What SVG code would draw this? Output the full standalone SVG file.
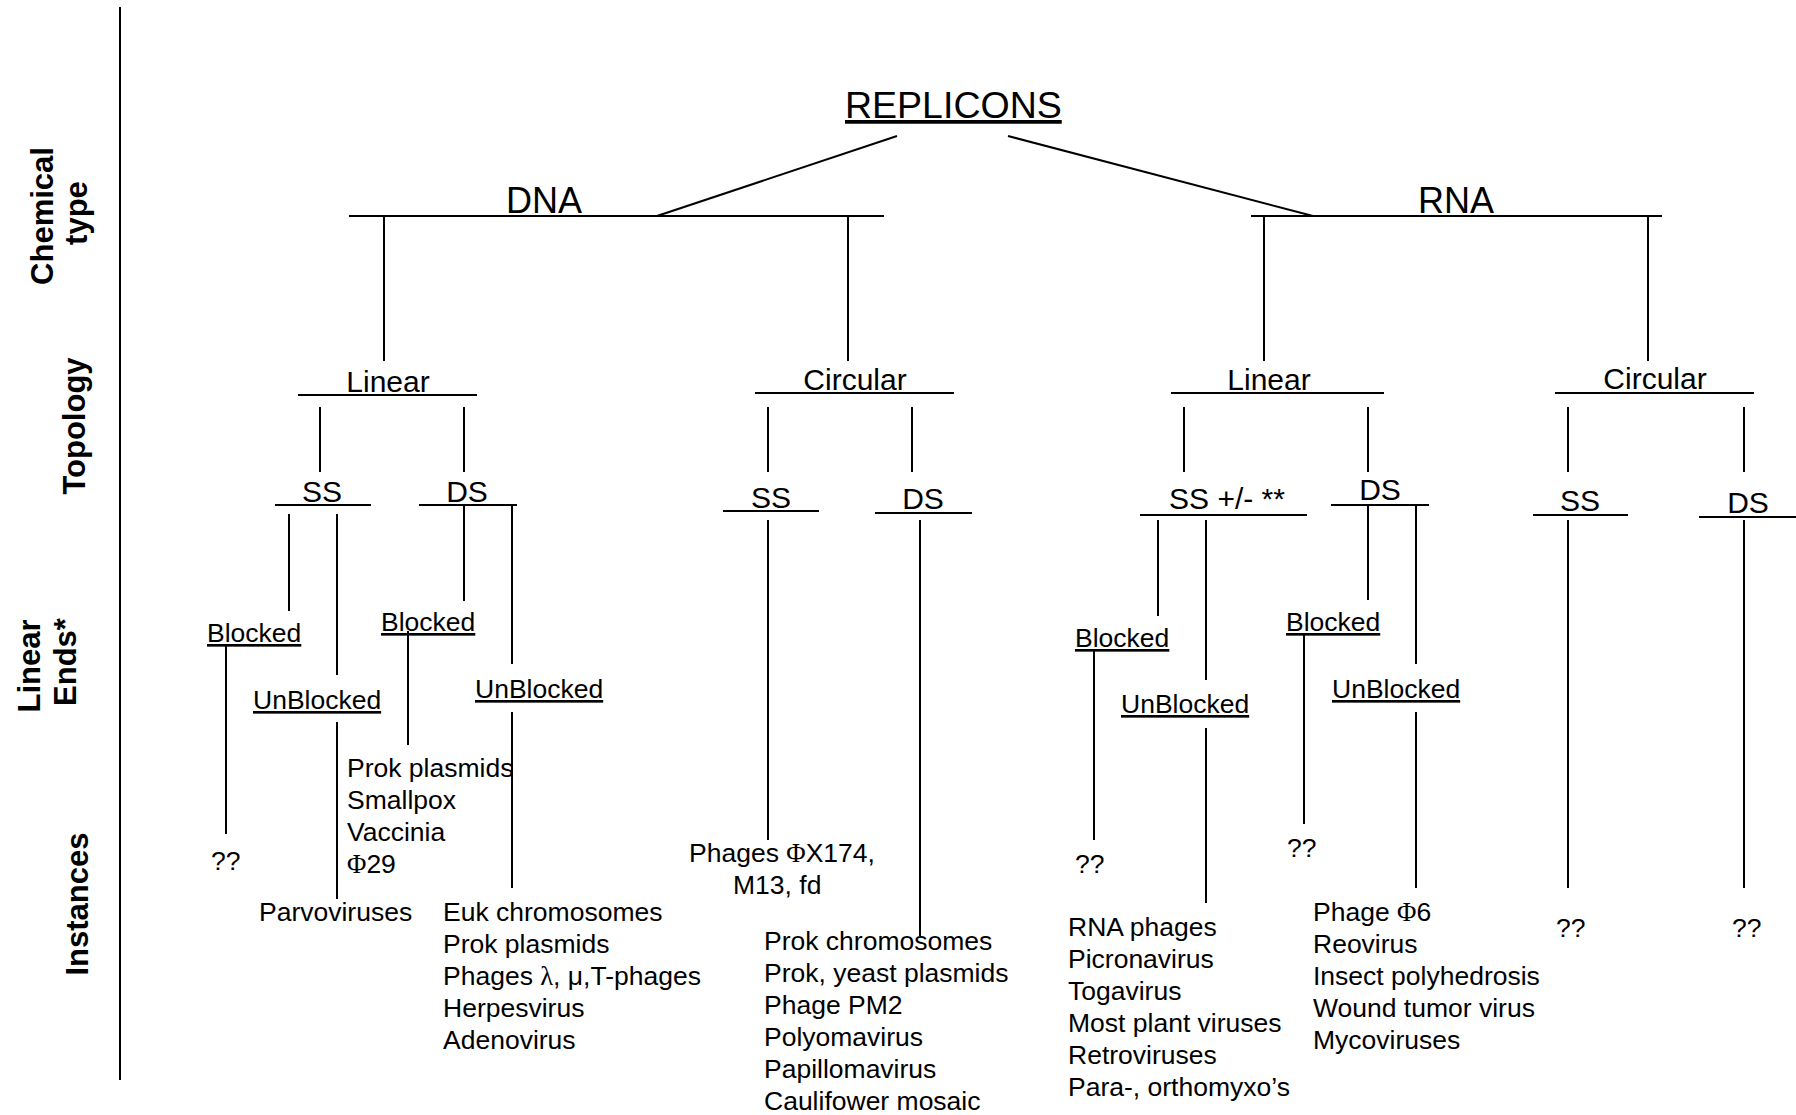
<svg xmlns="http://www.w3.org/2000/svg" width="1796" height="1115" viewBox="0 0 1796 1115">
<style>
.ln{stroke:#000;stroke-width:2;fill:none}
text{font-family:"Liberation Sans",Arial,sans-serif;fill:#000}
.ax{font-weight:bold;font-size:31px;text-anchor:middle}
.t38{font-size:37.5px}
.t36{font-size:36px}
.t30{font-size:30px;text-anchor:middle}
.t26{font-size:26.5px}
.u{text-decoration:underline}
.sym{font-family:"Liberation Serif","DejaVu Serif",serif}
</style>
<rect width="1796" height="1115" fill="#fff"/>

<g id="axis">
<line class="ln" x1="120" y1="7" x2="120" y2="1080"/>
<text class="ax" transform="rotate(-90 53 216)" x="53" y="216">Chemical</text>
<text class="ax" transform="rotate(-90 87 213)" x="87" y="213">type</text>
<text class="ax" transform="rotate(-90 85 426)" x="85" y="426">Topology</text>
<text class="ax" transform="rotate(-90 40 666)" x="40" y="666">Linear</text>
<text class="ax" transform="rotate(-90 76 662)" x="76" y="662">Ends*</text>
<text class="ax" transform="rotate(-90 88 904)" x="88" y="904">Instances</text>
</g>

<g id="replicons"><text class="t38 u" x="845" y="118">REPLICONS</text></g>

<g id="dna">
<text class="t36" x="506" y="213">DNA</text>
<line class="ln" x1="349" y1="216" x2="884" y2="216"/>
</g>
<g id="rna">
<text class="t36" x="1418" y="213">RNA</text>
<line class="ln" x1="1251" y1="216" x2="1662" y2="216"/>
</g>

<g id="dna-linear">
<text class="t30" x="388" y="392">Linear</text>
<line class="ln" x1="298" y1="395" x2="477" y2="395"/>
</g>
<g id="dna-circular">
<text class="t30" x="855" y="390">Circular</text>
<line class="ln" x1="755" y1="393" x2="954" y2="393"/>
</g>
<g id="rna-linear">
<text class="t30" x="1269" y="390">Linear</text>
<line class="ln" x1="1171" y1="393" x2="1384" y2="393"/>
</g>
<g id="rna-circular">
<text class="t30" x="1655" y="389">Circular</text>
<line class="ln" x1="1555" y1="393" x2="1754" y2="393"/>
</g>

<g id="dna-lin-ss">
<text class="t30" x="322" y="502">SS</text>
<line class="ln" x1="275" y1="505" x2="371" y2="505"/>
</g>
<g id="dna-lin-ds">
<text class="t30" x="467" y="502">DS</text>
<line class="ln" x1="419" y1="505" x2="517" y2="505"/>
</g>
<g id="dna-circ-ss">
<text class="t30" x="771" y="508">SS</text>
<line class="ln" x1="723" y1="511" x2="819" y2="511"/>
</g>
<g id="dna-circ-ds">
<text class="t30" x="923" y="509">DS</text>
<line class="ln" x1="875" y1="513" x2="972" y2="513"/>
</g>
<g id="rna-lin-ss">
<text class="t30" x="1227" y="509">SS +/- **</text>
<line class="ln" x1="1140" y1="515" x2="1307" y2="515"/>
</g>
<g id="rna-lin-ds">
<text class="t30" x="1380" y="500">DS</text>
<line class="ln" x1="1331" y1="505" x2="1429" y2="505"/>
</g>
<g id="rna-circ-ss">
<text class="t30" x="1580" y="511">SS</text>
<line class="ln" x1="1533" y1="515" x2="1628" y2="515"/>
</g>
<g id="rna-circ-ds">
<text class="t30" x="1748" y="513">DS</text>
<line class="ln" x1="1699" y1="517" x2="1796" y2="517"/>
</g>

<g id="dna-ss-blocked"><text class="t26 u" x="207" y="642">Blocked</text></g>
<g id="dna-ss-unblocked"><text class="t26 u" x="253" y="709">UnBlocked</text></g>
<g id="dna-ds-blocked"><text class="t26 u" x="381" y="631">Blocked</text></g>
<g id="dna-ds-unblocked"><text class="t26 u" x="475" y="698">UnBlocked</text></g>
<g id="rna-ss-blocked"><text class="t26 u" x="1075" y="647">Blocked</text></g>
<g id="rna-ss-unblocked"><text class="t26 u" x="1121" y="713">UnBlocked</text></g>
<g id="rna-ds-blocked"><text class="t26 u" x="1286" y="631">Blocked</text></g>
<g id="rna-ds-unblocked"><text class="t26 u" x="1332" y="698">UnBlocked</text></g>

<g id="inst-dna-ss-blocked"><text class="t26" x="211" y="870">??</text></g>
<g id="inst-dna-ss-unblocked"><text class="t26" x="259" y="921">Parvoviruses</text></g>
<g id="inst-dna-ds-blocked"><text class="t26" x="347" y="777">
<tspan x="347">Prok plasmids</tspan><tspan x="347" dy="32">Smallpox</tspan><tspan x="347" dy="32">Vaccinia</tspan><tspan x="347" dy="32"><tspan class="sym">Φ</tspan>29</tspan></text></g>
<g id="inst-dna-ds-unblocked"><text class="t26" x="443" y="921">
<tspan x="443">Euk chromosomes</tspan><tspan x="443" dy="32">Prok plasmids</tspan><tspan x="443" dy="32">Phages <tspan class="sym">λ</tspan>, μ,T-phages</tspan><tspan x="443" dy="32">Herpesvirus</tspan><tspan x="443" dy="32">Adenovirus</tspan></text></g>
<g id="inst-dna-circ-ss"><text class="t26" x="689" y="862">
<tspan x="689">Phages <tspan class="sym">Φ</tspan>X174,</tspan><tspan x="733" dy="32">M13, fd</tspan></text></g>
<g id="inst-dna-circ-ds"><text class="t26" x="764" y="950">
<tspan x="764">Prok chromosomes</tspan><tspan x="764" dy="32">Prok, yeast plasmids</tspan><tspan x="764" dy="32">Phage PM2</tspan><tspan x="764" dy="32">Polyomavirus</tspan><tspan x="764" dy="32">Papillomavirus</tspan><tspan x="764" dy="32">Caulifower mosaic</tspan></text></g>
<g id="inst-rna-ss-blocked"><text class="t26" x="1075" y="873">??</text></g>
<g id="inst-rna-ss-unblocked"><text class="t26" x="1068" y="936">
<tspan x="1068">RNA phages</tspan><tspan x="1068" dy="32">Picronavirus</tspan><tspan x="1068" dy="32">Togavirus</tspan><tspan x="1068" dy="32">Most plant viruses</tspan><tspan x="1068" dy="32">Retroviruses</tspan><tspan x="1068" dy="32">Para-, orthomyxo’s</tspan></text></g>
<g id="inst-rna-ds-blocked"><text class="t26" x="1287" y="857">??</text></g>
<g id="inst-rna-ds-unblocked"><text class="t26" x="1313" y="921">
<tspan x="1313">Phage <tspan class="sym">Φ</tspan>6</tspan><tspan x="1313" dy="32">Reovirus</tspan><tspan x="1313" dy="32">Insect polyhedrosis</tspan><tspan x="1313" dy="32">Wound tumor virus</tspan><tspan x="1313" dy="32">Mycoviruses</tspan></text></g>
<g id="inst-rna-circ-ss"><text class="t26" x="1556" y="937">??</text></g>
<g id="inst-rna-circ-ds"><text class="t26" x="1732" y="937">??</text></g>

<g id="connectors">
<line class="ln" x1="897" y1="136" x2="657" y2="216"/>
<line class="ln" x1="1008" y1="136" x2="1313" y2="216"/>
<line class="ln" x1="384" y1="216" x2="384" y2="361"/>
<line class="ln" x1="848" y1="216" x2="848" y2="361"/>
<line class="ln" x1="1264" y1="216" x2="1264" y2="361"/>
<line class="ln" x1="1648" y1="216" x2="1648" y2="361"/>
<line class="ln" x1="320" y1="407" x2="320" y2="472"/>
<line class="ln" x1="464" y1="407" x2="464" y2="472"/>
<line class="ln" x1="768" y1="407" x2="768" y2="472"/>
<line class="ln" x1="912" y1="407" x2="912" y2="472"/>
<line class="ln" x1="1184" y1="407" x2="1184" y2="472"/>
<line class="ln" x1="1368" y1="407" x2="1368" y2="472"/>
<line class="ln" x1="1568" y1="407" x2="1568" y2="472"/>
<line class="ln" x1="1744" y1="407" x2="1744" y2="472"/>
<line class="ln" x1="289" y1="514" x2="289" y2="611"/>
<line class="ln" x1="337" y1="514" x2="337" y2="675"/>
<line class="ln" x1="464" y1="505" x2="464" y2="601"/>
<line class="ln" x1="512" y1="505" x2="512" y2="664"/>
<line class="ln" x1="226" y1="645" x2="226" y2="834"/>
<line class="ln" x1="337" y1="722" x2="337" y2="899"/>
<line class="ln" x1="408" y1="631" x2="408" y2="745"/>
<line class="ln" x1="512" y1="712" x2="512" y2="888"/>
<line class="ln" x1="768" y1="520" x2="768" y2="840"/>
<line class="ln" x1="920" y1="520" x2="920" y2="936"/>
<line class="ln" x1="1158" y1="520" x2="1158" y2="616"/>
<line class="ln" x1="1206" y1="520" x2="1206" y2="680"/>
<line class="ln" x1="1368" y1="505" x2="1368" y2="600"/>
<line class="ln" x1="1416" y1="505" x2="1416" y2="664"/>
<line class="ln" x1="1094" y1="650" x2="1094" y2="840"/>
<line class="ln" x1="1206" y1="728" x2="1206" y2="903"/>
<line class="ln" x1="1304" y1="634" x2="1304" y2="824"/>
<line class="ln" x1="1416" y1="712" x2="1416" y2="888"/>
<line class="ln" x1="1568" y1="520" x2="1568" y2="888"/>
<line class="ln" x1="1744" y1="520" x2="1744" y2="888"/>
</g>
</svg>
